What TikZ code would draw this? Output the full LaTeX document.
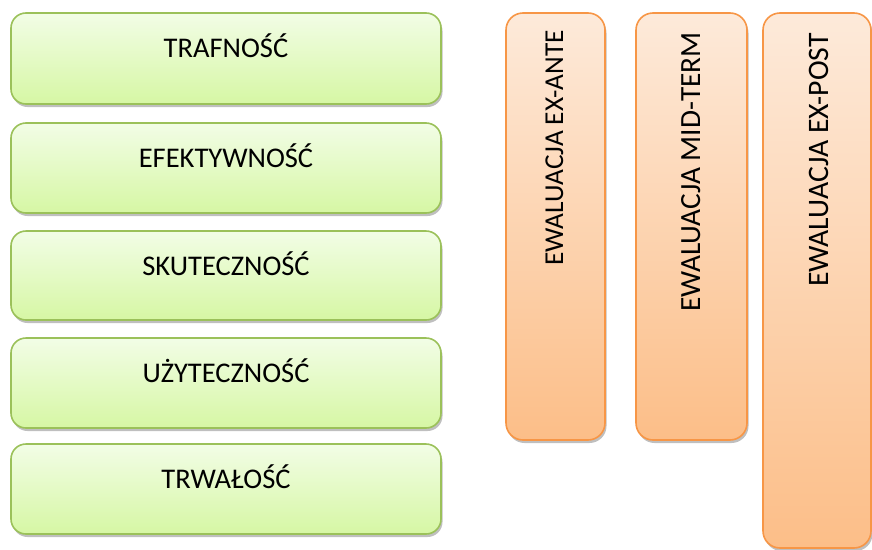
\documentclass[tikz,border=0pt]{standalone}
\usepackage{fontspec}
\setmainfont{Carlito}
\usetikzlibrary{shadows}
\definecolor{gtop}{RGB}{242,253,230}
\definecolor{gbot}{RGB}{214,247,164}
\definecolor{gline}{RGB}{155,193,90}
\definecolor{otop}{RGB}{253,234,218}
\definecolor{obot}{RGB}{252,190,136}
\definecolor{oline}{RGB}{247,150,70}
\tikzset{
  greenbox/.style={draw=gline, line width=1.6pt, rounded corners=15pt,
    top color=gtop, bottom color=gbot,
    drop shadow={shadow xshift=1.5pt, shadow yshift=-3pt, opacity=0.25, fill=black}},
  orangebox/.style={draw=oline, line width=1.6pt, rounded corners=17pt,
    top color=otop, bottom color=obot,
    drop shadow={shadow xshift=1.5pt, shadow yshift=-3pt, opacity=0.25, fill=black}},
  gtext/.style={anchor=base, inner sep=0pt, font=\fontsize{28.5}{34}\selectfont},
  vtext/.style={rotate=90, anchor=base east, inner sep=0pt}
}
\begin{document}
\begin{tikzpicture}[x=1pt,y=-1pt]
\useasboundingbox (0,0) rectangle (872,549);
% green boxes
\path[greenbox] (11,13) rectangle (441,104);
\path[greenbox] (11,123) rectangle (441,213);
\path[greenbox] (11,231) rectangle (441,320);
\path[greenbox] (11,338) rectangle (441,428);
\path[greenbox] (11,444) rectangle (441,534);
\node[gtext] (t1) at (226,57) {TRAFNOŚĆ};
\node[gtext] (t2) at (226,167) {EFEKTYWNOŚĆ};
\node[gtext] (t3) at (226,275) {SKUTECZNOŚĆ};
\node[gtext] (t4) at (226,382) {UŻYTECZNOŚĆ};
\node[gtext] (t5) at (226,488) {TRWAŁOŚĆ};
% orange columns
\path[orangebox] (506,13) rectangle (605,440);
\path[orangebox] (636,13) rectangle (747,440);
\path[orangebox] (763,13) rectangle (871,548);
\node[vtext, font=\fontsize{27.3}{32}\selectfont] (v1) at (563,30) {EWALUACJA EX-ANTE};
\node[vtext, font=\fontsize{29.3}{34}\selectfont] (v2) at (700,32) {EWALUACJA MID-TERM};
\node[vtext, font=\fontsize{29.7}{34}\selectfont] (v3) at (828,33) {EWALUACJA EX-POST};
\end{tikzpicture}
\end{document}
